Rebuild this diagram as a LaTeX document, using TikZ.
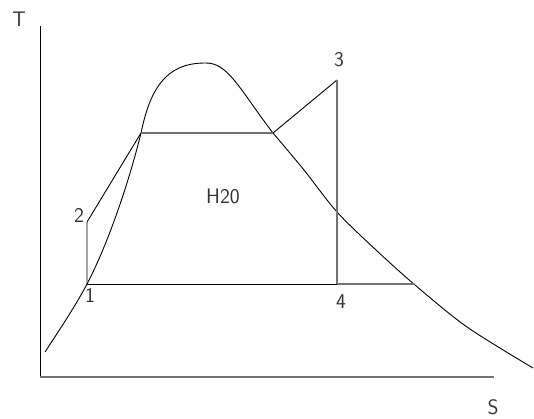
\documentclass[tikz,border=0pt]{standalone}
\begin{document}
\begin{tikzpicture}[x=1pt,y=-1pt,
  lbl/.style={font=\sffamily\fontsize{21}{21}\selectfont, inner sep=0pt, text=black!80},
  blk/.style={line width=0.9pt, black},
  gry/.style={line width=1.1pt, black!55}]
\useasboundingbox (0,0) rectangle (534,418);
% axes
\coordinate (o) at (40,377);
\coordinate (ytop) at (40,26);
\coordinate (xend) at (494,377);
\draw[blk] (ytop) -- (o);
\draw[gry] (o) -- (xend);
\node[lbl] (T) at (19,19) {T};
\node[lbl] (S) at (493,407) {S};
% cycle points
\coordinate (p1) at (87,284);
\coordinate (p2) at (87,222);
\coordinate (pa) at (141,133);
\coordinate (pb) at (273,133);
\coordinate (p3) at (337,80);
\coordinate (p4) at (337,284);
\coordinate (pc) at (415,284);
% saturation curve
\draw[blk] (45,352) .. controls (62,326) and (76,305) .. (p1)
  .. controls (105,250) and (127,190) .. (pa)
  .. controls (150,90) and (165,63) .. (205,63)
  .. controls (228,62) and (240,90) .. (pb);
\draw[blk] plot[smooth, tension=0.5] coordinates {(273,133) (304,170) (337,212) (376,250) (415,285) (467,327) (533,368)};
% cycle
\draw[blk] (p1) -- (p2) -- (pa);
\draw[gry] (pa) -- (pb);
\draw[blk] (pb) -- (p3);
\draw[gry] (p3) -- (p4);
\draw[blk] (p1) -- (p4);
\draw[gry] (p4) -- (pc);
% labels
\node[lbl] (l1) at (90,295) {1};
\node[lbl] (l2) at (79,215) {2};
\node[lbl] (l3) at (339,60) {3};
\node[lbl] (l4) at (341,302) {4};
\node[lbl] (h) at (223,196) {H20};
\end{tikzpicture}
\end{document}
